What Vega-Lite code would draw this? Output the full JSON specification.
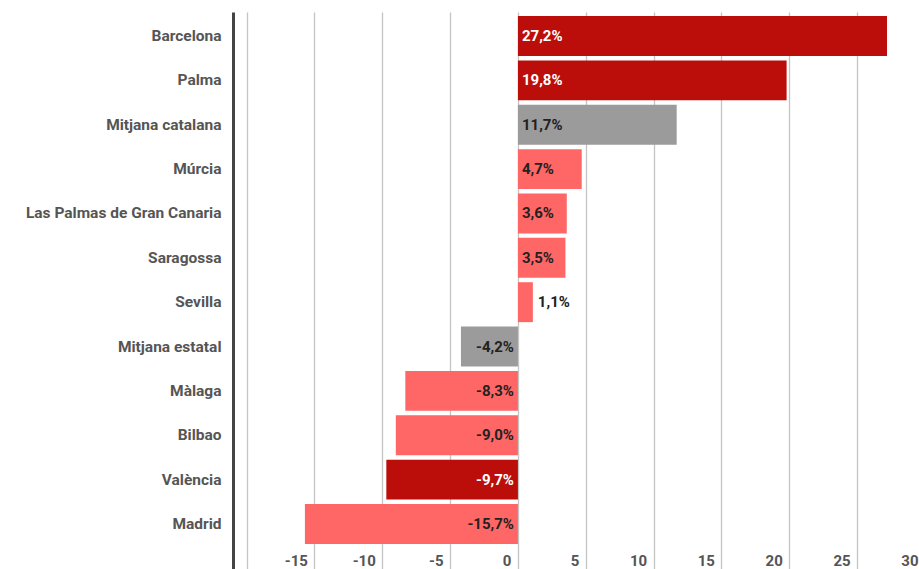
{
  "$schema": "https://vega.github.io/schema/vega-lite/v6.json",
  "autosize": {"type": "none"},
  "padding": {"left": 233, "top": 12, "right": 0, "bottom": 0},
  "width": 686,
  "height": 557,
  "background": "white",
  "config": {
    "view": {"stroke": null},
    "font": "Roboto"
  },
  "data": {
    "values": [
      {"city": "Barcelona", "value": 27.2, "label": "27,2%", "group": "dark"},
      {"city": "Palma", "value": 19.8, "label": "19,8%", "group": "dark"},
      {"city": "Mitjana catalana", "value": 11.7, "label": "11,7%", "group": "avg"},
      {"city": "Múrcia", "value": 4.7, "label": "4,7%", "group": "light"},
      {"city": "Las Palmas de Gran Canaria", "value": 3.6, "label": "3,6%", "group": "light"},
      {"city": "Saragossa", "value": 3.5, "label": "3,5%", "group": "light"},
      {"city": "Sevilla", "value": 1.1, "label": "1,1%", "group": "light"},
      {"city": "Mitjana estatal", "value": -4.2, "label": "-4,2%", "group": "avg"},
      {"city": "Màlaga", "value": -8.3, "label": "-8,3%", "group": "light"},
      {"city": "Bilbao", "value": -9.0, "label": "-9,0%", "group": "light"},
      {"city": "València", "value": -9.7, "label": "-9,7%", "group": "dark"},
      {"city": "Madrid", "value": -15.7, "label": "-15,7%", "group": "light"}
    ]
  },
  "encoding": {
    "y": {
      "field": "city",
      "type": "nominal",
      "sort": null,
      "scale": {"paddingInner": 0.1, "paddingOuter": 0.328, "align": 0.139},
      "axis": {
        "title": null,
        "ticks": false,
        "grid": false,
        "domain": true,
        "domainColor": "#444444",
        "domainWidth": 3,
        "labelPadding": 12,
        "labelLimit": 400,
        "labelFont": "Roboto",
        "labelFontWeight": "bold",
        "labelFontSize": 15.5,
        "labelColor": "#555555"
      }
    }
  },
  "layer": [
    {
      "mark": {"type": "bar"},
      "encoding": {
        "x": {
          "field": "value",
          "type": "quantitative",
          "scale": {"domain": [-21, 30], "range": [0, 692], "nice": false, "zero": false},
          "axis": {
            "title": null,
            "values": [-20, -15, -10, -5, 0, 5, 10, 15, 20, 25, 30],
            "labelExpr": "datum.value == -20 ? '' : '' + datum.value",
            "ticks": false,
            "domain": false,
            "grid": true,
            "gridColor": "#c4c4c4",
            "gridWidth": 1.3,
            "labelAlign": "right",
            "labelOffset": -7,
            "labelPadding": -16,
            "labelFont": "Roboto",
            "labelFontWeight": "bold",
            "labelFontSize": 15,
            "labelColor": "#555555"
          }
        },
        "color": {
          "field": "group",
          "type": "nominal",
          "scale": {"domain": ["dark", "avg", "light"], "range": ["#bb0e0b", "#9b9b9b", "#ff6666"]},
          "legend": null
        }
      }
    },
    {
      "transform": [{"filter": "datum.value >= 2"}],
      "mark": {"type": "text", "align": "left", "dx": 4, "font": "Roboto", "fontWeight": "bold", "fontSize": 15},
      "encoding": {
        "x": {"datum": 0, "type": "quantitative"},
        "text": {"field": "label"},
        "color": {"condition": {"test": "datum.group == 'dark'", "value": "#ffffff"}, "value": "#222222"}
      }
    },
    {
      "transform": [{"filter": "datum.value > 0 && datum.value < 2"}],
      "mark": {"type": "text", "align": "left", "dx": 5, "font": "Roboto", "fontWeight": "bold", "fontSize": 15, "color": "#222222"},
      "encoding": {
        "x": {"field": "value", "type": "quantitative"},
        "text": {"field": "label"}
      }
    },
    {
      "transform": [{"filter": "datum.value < 0"}],
      "mark": {"type": "text", "align": "right", "dx": -4, "font": "Roboto", "fontWeight": "bold", "fontSize": 15},
      "encoding": {
        "x": {"datum": 0, "type": "quantitative"},
        "text": {"field": "label"},
        "color": {"condition": {"test": "datum.group == 'dark'", "value": "#ffffff"}, "value": "#222222"}
      }
    }
  ]
}
